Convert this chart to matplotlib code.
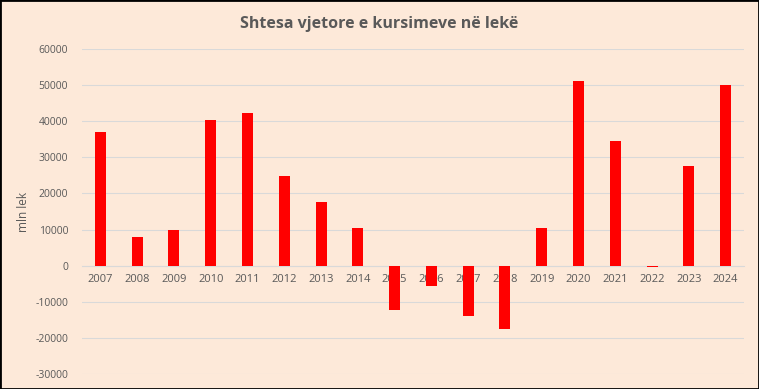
import matplotlib
matplotlib.use("Agg")
import matplotlib.pyplot as plt
from matplotlib.patches import Rectangle

years = [str(y) for y in range(2007, 2025)]
values = [36900, 8000, 10000, 40200, 42400, 24700, 17500, 10300,
          -12400, -5500, -13900, -17400, 10300, 51000, 34400, -500,
          27500, 49900]
yticks = [-30000, -20000, -10000, 0, 10000, 20000, 30000, 40000, 50000, 60000]

title = "Shtesa vjetore e kursimeve në lekë"
ylabel = "mln lek"

bg = "#FDE9D9"
txt = "#595959"
W, H = 759, 389
plt.rcParams['font.family'] = ['Open Sans', 'DejaVu Sans']
fig = plt.figure(figsize=(W / 100, H / 100), dpi=100, facecolor=bg)

ax = fig.add_axes([82 / W, 1 - 374 / H, (744 - 82) / W, (374 - 49) / H])
ax.set_facecolor(bg)
ax.set_axisbelow(True)
x = list(range(len(years)))
ax.bar(x, values, width=0.3, color="#FF0000", zorder=3)
ax.set_xlim(-0.5, len(years) - 0.5)
ax.set_ylim(-30000, 60000)
for s in ['top', 'right', 'left']:
    ax.spines[s].set_visible(False)
ax.spines['bottom'].set_position(('data', 0))
ax.spines['bottom'].set_color("#D9D9D9")
ax.spines['bottom'].set_linewidth(0.8)
ax.set_yticks(yticks)
ax.set_yticklabels([str(v) for v in yticks])
ax.set_xticks(x)
ax.set_xticklabels(years)
ax.tick_params(axis='both', length=0, labelsize=7.5, labelcolor=txt)
ax.tick_params(axis='x', labelsize=8)
ax.tick_params(axis='y', pad=10)
ax.tick_params(axis='x', pad=6)
ax.grid(axis='y', color="#D9D9D9", linewidth=0.8)
ax.set_ylabel(ylabel, fontsize=8.5, color=txt)
ax.yaxis.set_label_coords(-52 / (744 - 82), (374 - 212) / (374 - 49))

fig.text(379 / W, 1 - 24 / H, title, ha='center', va='center',
         fontsize=11.5, fontweight='bold', color=txt)

fig.patches.append(Rectangle((0, 0), 1, 1, transform=fig.transFigure,
                             fill=False, edgecolor='black', linewidth=2))
fig.savefig("out.png", dpi=100, facecolor=bg)
